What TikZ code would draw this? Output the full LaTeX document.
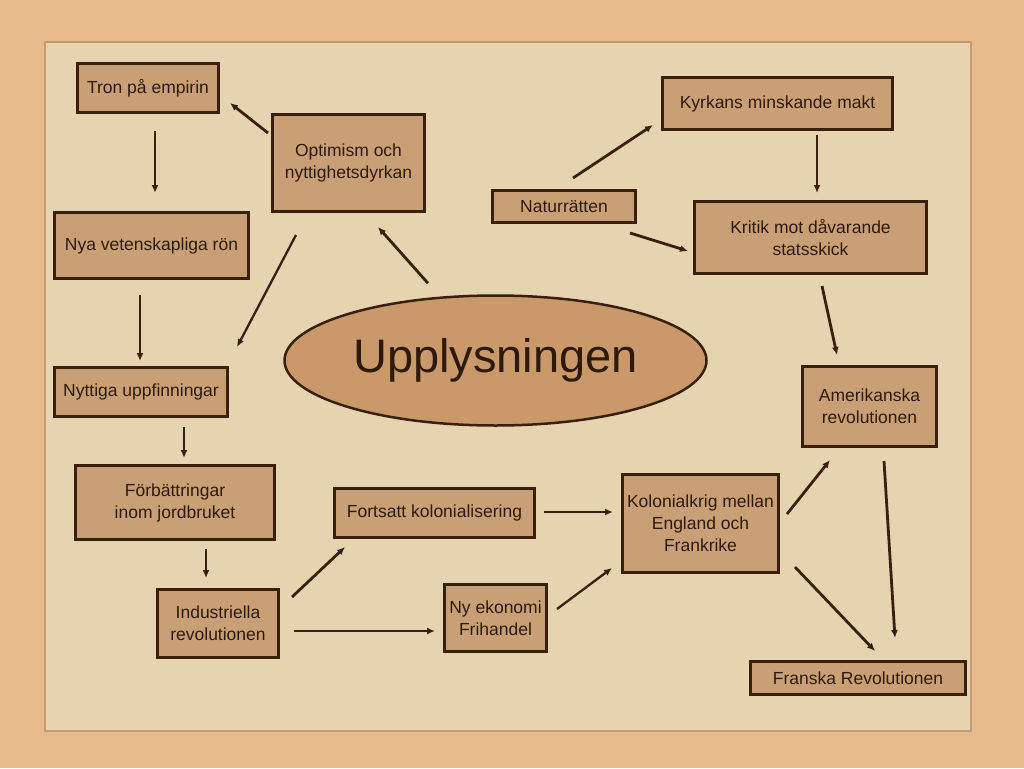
\documentclass[tikz,border=0pt]{standalone}
\usepackage{fontspec}
\setmainfont{Liberation Sans}
\usetikzlibrary{calc,arrows.meta}
\usetikzlibrary{positioning}
\usetikzlibrary{shapes.geometric}
\definecolor{ep-bg}{HTML}{E8B98B}
\definecolor{ep-paper}{HTML}{E6D4B1}
\definecolor{ep-edge}{HTML}{C49C74}
\definecolor{ep-box}{HTML}{C9A075}
\definecolor{ep-oval}{HTML}{C9996A}
\definecolor{ep-line}{HTML}{3A1F10}
\definecolor{ep-text}{HTML}{2E1A0D}

\begin{document}
\begin{tikzpicture}[
    x=1pt, y=-1pt,
    font=\fontsize{17.5}{22}\selectfont,
    >={Latex[length=8pt,width=7pt]}
  ]

  % Styles for the mind map
  \tikzset{
    box/.style={draw=ep-line, fill=ep-box, line width=3pt, text=ep-text, align=center, inner sep=2pt},
    oval/.style={ellipse, draw=ep-line, fill=ep-oval, line width=2.5pt, text=ep-text, inner sep=0pt},
    arr/.style={->, draw=ep-line, line width=2.8pt},
    thinarr/.style={->, draw=ep-line, line width=1.8pt}
  }

  % Background and paper sheet
  \fill[ep-bg] (0,0) rectangle (1024,768);
  \filldraw[fill=ep-paper, draw=ep-edge, line width=1.5pt] (45,42) rectangle (971,731);

  % Top row
  \node (tron)   [box, minimum width=141pt, minimum height=49pt] at (148,88) {Tron på empirin};
  \node (kyrka)  [box, minimum width=230pt, minimum height=52pt] at (777.5,103.5) {Kyrkans minskande makt};
  \node (opt)    [box, minimum width=152pt, minimum height=97pt] at (348.5,163) {Optimism och\\nyttighetsdyrkan};
  \node (natur)  [box, minimum width=143pt, minimum height=32pt] at (564,206.5) {Naturrätten};
  \node (nya)    [box, minimum width=194pt, minimum height=66pt] at (151.5,245.5) {Nya vetenskapliga rön};
  \node (kritik) [box, minimum width=232pt, minimum height=72pt] at (810.5,237.5) {Kritik mot dåvarande\\statsskick};

  % Centre
  \node (upp) [oval, minimum width=422pt, minimum height=130pt, font=\fontsize{47}{50}\selectfont] at (495.5,360.5) {Upplysningen};

  % Middle and bottom rows
  \node (nytt)  [box, minimum width=173pt, minimum height=49pt] at (141,392) {Nyttiga uppfinningar};
  \node (amer)  [box, minimum width=134pt, minimum height=80pt] at (869.5,406.5) {Amerikanska\\revolutionen};
  \node (forb)  [box, minimum width=199pt, minimum height=74pt] at (175,502.5) {Förbättringar\\inom jordbruket};
  \node (fort)  [box, minimum width=200pt, minimum height=49pt] at (434.5,513) {Fortsatt kolonialisering};
  \node (kolk)  [box, minimum width=156pt, minimum height=98pt] at (700.5,523.5) {Kolonialkrig mellan\\England och\\Frankrike};
  \node (ind)   [box, minimum width=121pt, minimum height=68pt] at (218,623.5) {Industriella\\revolutionen};
  \node (nyek)  [box, minimum width=102pt, minimum height=67pt] at (495.5,618) {Ny ekonomi\\Frihandel};
  \node (fran)  [box, minimum width=215pt, minimum height=33pt] at (858,678) {Franska Revolutionen};

  % Upper connectors
  \draw[arr] ($(opt.north west)+(-3,20)$) -- ($(tron.south east)+(10,-11)$);
  \draw[thinarr] ($(tron.south)+(7,17)$) -- ($(nya.north)+(3.5,-18)$);
  \draw[arr] ($(natur.north)+(9,-11)$) -- ($(kyrka.west)+(-8,21.5)$);
  \draw[thinarr] ($(kyrka.south)+(39.5,4)$) -- ($(kritik.north)+(6.5,-7)$);
  \draw[arr] ($(natur.south east)+(-7,9)$) -- ($(kritik.west)+(-5,13.5)$);
  \draw[thinarr] ($(nya.south)+(-11.5,15)$) -- ($(nytt.north)+(-1,-5)$);
  \draw[arr, line width=2.3pt] ($(opt.south west)+(25,22)$) -- ($(nytt.north east)+(8,-19)$);
  \draw[arr] ($(upp.north)+(-67.5,-11)$) -- ($(opt.south)+(29.5,14)$);
  \draw[arr] ($(kritik.south)+(11.5,11)$) -- ($(amer.north)+(-32.5,-10)$);

  % Lower connectors
  \draw[arr, line width=2.3pt] ($(nytt.south)+(43,9)$) -- ($(forb.north)+(9,-6)$);
  \draw[thinarr] ($(forb.south)+(31,8)$) -- ($(ind.north)+(-12,-10)$);
  \draw[arr] ($(ind.north east)+(12,9)$) -- ($(fort.south west)+(12,8)$);
  \draw[arr] ($(ind.east)+(14,7.5)$) -- ($(nyek.west)+(-8,13)$);
  \draw[arr, line width=2.3pt] ($(fort.east)+(8,-1)$) -- ($(kolk.west)+(-8,-11.5)$);
  \draw[arr, line width=2.3pt] ($(nyek.east)+(9,-9)$) -- ($(kolk.south west)+(-9,-6)$);
  \draw[arr] ($(kolk.east)+(7,-9.5)$) -- ($(amer.south west)+(29,12)$);
  \draw[arr] ($(amer.south)+(14.5,13)$) -- ($(fran.north)+(37,-22)$);
  \draw[arr] ($(kolk.south east)+(15,-7)$) -- ($(fran.north)+(17,-9)$);

\end{tikzpicture}
\end{document}
